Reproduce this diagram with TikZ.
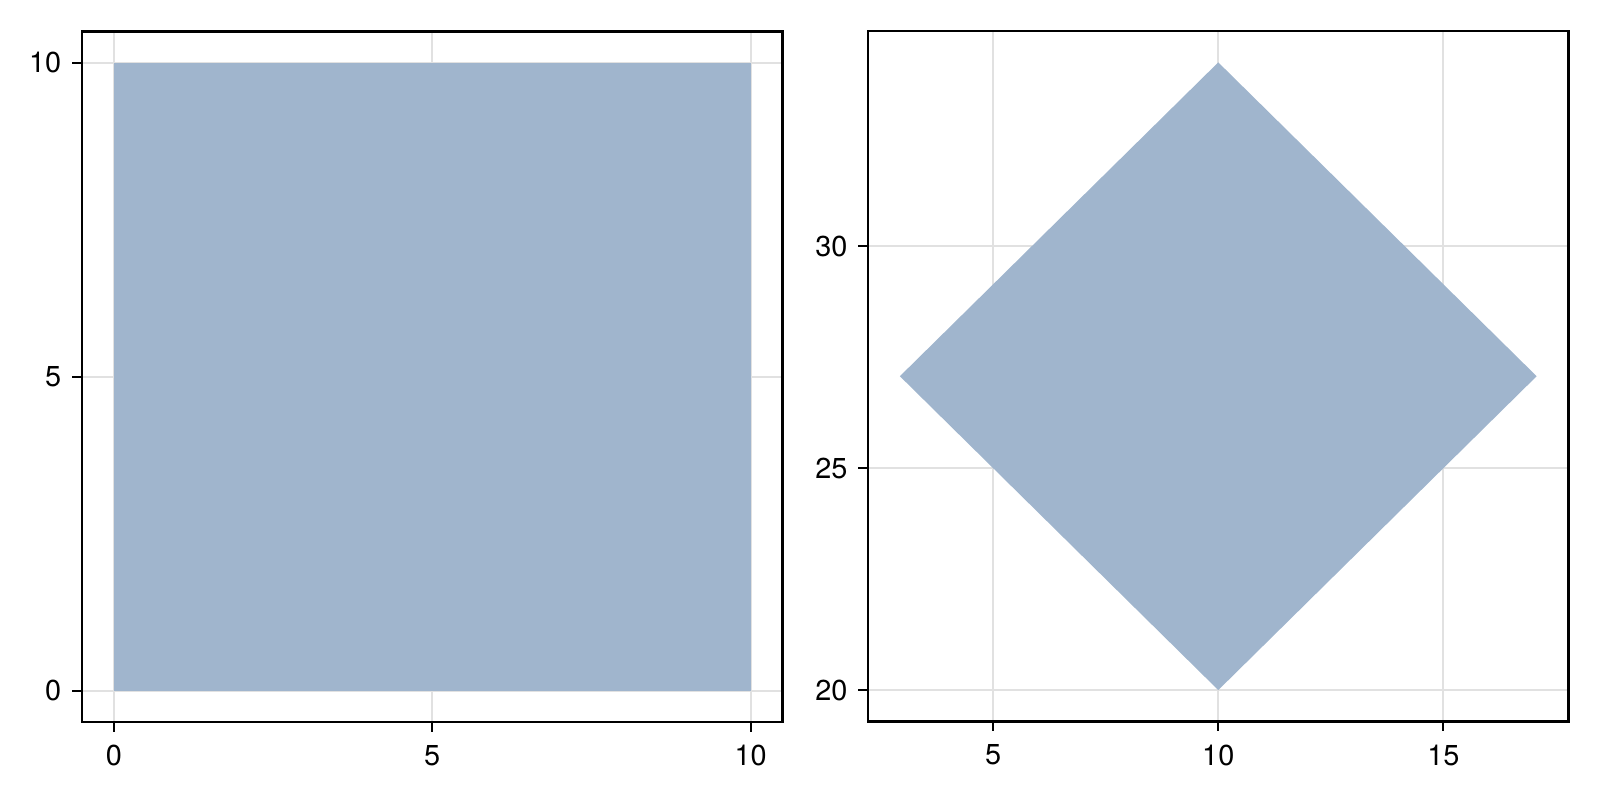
\documentclass[tikz,border=0pt]{standalone}
\usepackage{fontspec}
\setmainfont{TeX Gyre Heros}
\definecolor{polyfill}{RGB}{160,181,205}
\definecolor{gridgray}{RGB}{225,225,225}
\tikzset{
    axisframe/.style={draw=black, line width=0.65pt},
    gridline/.style={draw=gridgray, line width=0.55pt},
    tickmark/.style={draw=black, line width=0.6pt},
    ticklabel/.style={inner sep=0pt, font=\fontsize{8.2}{10}\selectfont},
}

\begin{document}
\begin{tikzpicture}[x=0.01cm, y=-0.01cm]
    \useasboundingbox (0,0) rectangle (1600,800);

    % left panel: square
    \begin{scope}[shift={(113.8,690.6)}, x=0.6364cm, y=0.6273cm]
        \foreach \t in {0,5,10} {
            \draw[gridline] (\t,-0.5) -- (\t,10.5);
            \draw[gridline] (-0.5,\t) -- (10.5,\t);
        }
        \fill[polyfill] (0,0) -- (10,0) -- (10,10) -- (0,10) -- cycle;
        \draw[axisframe] (-0.5,-0.5) rectangle (10.5,10.5);
        \foreach \t in {0,5,10} {
            \draw[tickmark] (\t,-0.5) -- ++(0,-0.1cm);
            \draw[tickmark] (-0.5,\t) -- ++(-0.1cm,0);
            \node[ticklabel, anchor=north] (lx\t) at ([yshift=-0.225cm]\t,-0.5) {\t};
            \node[ticklabel, anchor=east] (ly\t) at ([xshift=-0.2cm]-0.5,\t) {\t};
        }
    \end{scope}

    % right panel: rotated square
    \begin{scope}[shift={(768,1577.8)}, x=0.45cm, y=0.4436cm]
        \foreach \t in {5,10,15}
            \draw[gridline] (\t,19.293) -- (\t,34.849);
        \foreach \t in {20,25,30}
            \draw[gridline] (2.222,\t) -- (17.778,\t);
        \fill[polyfill] (10,20) -- (17.071,27.071) -- (10,34.142) -- (2.929,27.071) -- cycle;
        \draw[axisframe] (2.222,19.293) rectangle (17.778,34.849);
        \foreach \t in {5,10,15} {
            \draw[tickmark] (\t,19.293) -- ++(0,-0.1cm);
            \node[ticklabel, anchor=north] (rx\t) at ([yshift=-0.225cm]\t,19.293) {\t};
        }
        \foreach \t in {20,25,30} {
            \draw[tickmark] (2.222,\t) -- ++(-0.1cm,0);
            \node[ticklabel, anchor=east] (ry\t) at ([xshift=-0.2cm]2.222,\t) {\t};
        }
    \end{scope}
\end{tikzpicture}
\end{document}
